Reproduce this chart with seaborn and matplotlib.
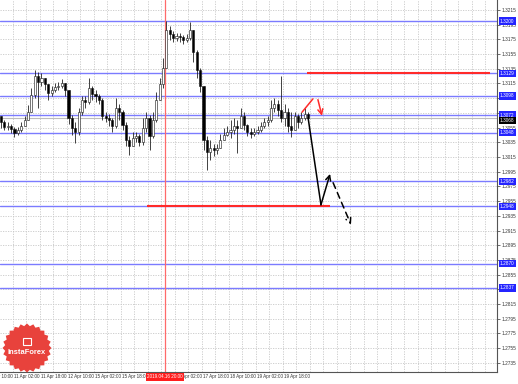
import numpy as np
import pandas as pd
import matplotlib
matplotlib.use("Agg")
import matplotlib.pyplot as plt
import seaborn as sns
from matplotlib.patches import Polygon
from matplotlib.transforms import blended_transform_factory

# ---------------- data (2-hour candles) ----------------
first_open = 1.3071
close = [1.3063, 1.3056, 1.3057, 1.3053, 1.3048, 1.3052, 1.3057, 1.3065, 1.3076, 1.3099,
         1.3125, 1.3117, 1.3122, 1.3114, 1.3102, 1.3106, 1.3110, 1.3112, 1.3116, 1.3106,
         1.3068, 1.3054, 1.3049, 1.3076, 1.3093, 1.3090, 1.3109, 1.3101, 1.3098, 1.3093,
         1.3071, 1.3068, 1.3065, 1.3057, 1.3082, 1.3076, 1.3059, 1.3038, 1.3030, 1.3041,
         1.3044, 1.3036, 1.3055, 1.3068, 1.3044, 1.3065, 1.3093, 1.3114, 1.3136, 1.3188,
         1.3182, 1.3177, 1.3180, 1.3178, 1.3174, 1.3177, 1.3188, 1.3158, 1.3133, 1.3112,
         1.3038, 1.3022, 1.3027, 1.3025, 1.3027, 1.3038, 1.3045, 1.3049, 1.3052, 1.3057,
         1.3055, 1.3071, 1.3059, 1.3049, 1.3046, 1.3049, 1.3052, 1.3057, 1.3063, 1.3065,
         1.3082, 1.3087, 1.3079, 1.3068, 1.3076, 1.3057, 1.3052, 1.3071, 1.3063, 1.3068,
         1.3073, 1.3068]
high = [1.3071, 1.3065, 1.3063, 1.3060, 1.3056, 1.3056, 1.3063, 1.3071, 1.3086, 1.3109,
        1.3133, 1.3131, 1.3129, 1.3122, 1.3114, 1.3112, 1.3116, 1.3117, 1.3121, 1.3114,
        1.3106, 1.3072, 1.3063, 1.3082, 1.3098, 1.3098, 1.3122, 1.3112, 1.3106, 1.3101,
        1.3095, 1.3076, 1.3074, 1.3068, 1.3095, 1.3087, 1.3079, 1.3063, 1.3044, 1.3049,
        1.3049, 1.3046, 1.3068, 1.3076, 1.3072, 1.3076, 1.3104, 1.3122, 1.3150, 1.3200,
        1.3193, 1.3186, 1.3184, 1.3184, 1.3181, 1.3182, 1.3199, 1.3185, 1.3161, 1.3136,
        1.3112, 1.3044, 1.3038, 1.3033, 1.3033, 1.3046, 1.3055, 1.3057, 1.3065, 1.3068,
        1.3065, 1.3082, 1.3076, 1.3060, 1.3055, 1.3055, 1.3057, 1.3063, 1.3068, 1.3071,
        1.3093, 1.3095, 1.3093, 1.3125, 1.3087, 1.3082, 1.3076, 1.3076, 1.3074, 1.3076,
        1.3082, 1.3076]
low = [1.3054, 1.3052, 1.3052, 1.3048, 1.3042, 1.3045, 1.3049, 1.3057, 1.3065, 1.3076,
       1.3095, 1.3082, 1.3112, 1.3106, 1.3093, 1.3098, 1.3103, 1.3106, 1.3109, 1.3098,
       1.3060, 1.3045, 1.3034, 1.3045, 1.3072, 1.3082, 1.3087, 1.3093, 1.3090, 1.3087,
       1.3065, 1.3063, 1.3057, 1.3049, 1.3055, 1.3065, 1.3052, 1.3030, 1.3018, 1.3030,
       1.3036, 1.3030, 1.3031, 1.3049, 1.3025, 1.3041, 1.3063, 1.3093, 1.3109, 1.3139,
       1.3174, 1.3171, 1.3173, 1.3171, 1.3169, 1.3171, 1.3174, 1.3144, 1.3122, 1.3104,
       1.3025, 1.2997, 1.3011, 1.3016, 1.3019, 1.3027, 1.3038, 1.3044, 1.3041, 1.3046,
       1.3020, 1.3057, 1.3052, 1.3044, 1.3041, 1.3044, 1.3046, 1.3049, 1.3055, 1.3057,
       1.3063, 1.3076, 1.3071, 1.3063, 1.3057, 1.3049, 1.3042, 1.3052, 1.3055, 1.3060,
       1.3065, 1.3065]

x_tick_labels = ["10 Apr 10:00", "11 Apr 02:00", "11 Apr 18:00", "12 Apr 10:00",
                 "15 Apr 02:00", "15 Apr 18:00", "16 Apr 10:00", "17 Apr 02:00",
                 "17 Apr 18:00", "18 Apr 10:00", "19 Apr 02:00", "19 Apr 18:00"]
y_tick_values = [round(1.3215 - 0.002 * k, 4) for k in range(25)]

blue_levels = [1.3200, 1.3129, 1.3098, 1.3072, 1.3048, 1.2982, 1.2948, 1.2870, 1.2837]
red_level_upper = 1.3129
red_level_upper_span = (90.7, 144.9)
red_level_lower = 1.2948
red_level_lower_span = (43.3, 97.5)
cursor_bar = 48.6
cursor_label = "2019.04.16 20:00"

black_path_x = [91.0, 94.8, 97.5]
black_path_y = [1.3068, 1.2950, 1.2992]
black_dash_x = [98.4, 103.7]
black_dash_y = [1.2980, 1.2923]
red_path_x = [89.2, 92.4]
red_path_y = [1.3076, 1.3094]
red_arrow_x = [93.9, 95.1]
red_arrow_y = [1.3093, 1.3071]

# ---------------- figure ----------------
sns.set_style("white")
plt.rcParams["font.family"] = ["Liberation Sans", "DejaVu Sans"]
W, H = 518, 384
fig = plt.figure(figsize=(W / 100, H / 100), dpi=100)
fig.patch.set_facecolor("white")
ax = fig.add_axes([0, 12 / H, 497 / W, 372 / H])

n = len(close)
df = pd.DataFrame({"i": np.arange(n), "close": close, "high": high, "low": low})
df["open"] = np.r_[first_open, df["close"].values[:-1]]
df["high"] = df[["high", "open", "close"]].max(axis=1)
df["low"] = df[["low", "open", "close"]].min(axis=1)
bull = df["close"] >= df["open"]

x_min, x_max = -0.296, 146.96
y_top, y_bot = 1.32286, 1.27225

# grid
for yv in y_tick_values:
    ax.axhline(yv, color="#c8c8c8", lw=0.6, ls=(0, (1.5, 1.5)), zorder=0)
for gx in np.arange(-0.5, x_max, 4):
    ax.axvline(gx, color="#c8c8c8", lw=0.6, ls=(0, (1.5, 1.5)), zorder=0)

# levels
for lv in blue_levels:
    ax.axhline(lv, color="#7b7bff", lw=1.0, zorder=1)
ax.axhline(close[-1], color="#bdbdbd", lw=0.8, zorder=1)
ax.axvline(cursor_bar, color="#ff6a6a", lw=0.9, zorder=1)
ax.hlines(red_level_upper, *red_level_upper_span, color="#ff2a2a", lw=1.5, zorder=2)
ax.hlines(red_level_lower, *red_level_lower_span, color="#ff2a2a", lw=1.5, zorder=2)

# candles
ax.vlines(df["i"], df["low"], df["high"], color="#222222", lw=0.6, zorder=3)
body = (df["close"] - df["open"]).abs().clip(lower=0.00004)
ax.bar(df["i"], body, bottom=np.minimum(df["open"], df["close"]), width=0.62,
       color=np.where(bull, "white", "black"), edgecolor="#111111", lw=0.4, zorder=4)

# forecast arrows
sns.lineplot(x=black_path_x[:-1], y=black_path_y[:-1], sort=False, estimator=None,
             color="black", lw=1.1, ax=ax, zorder=5)
ax.annotate("", xy=(black_path_x[-1], black_path_y[-1]),
            xytext=(black_path_x[-2], black_path_y[-2]),
            arrowprops=dict(arrowstyle="->", color="black", lw=1.1, mutation_scale=9,
                            shrinkA=0, shrinkB=0), zorder=5)
ax.annotate("", xy=(black_dash_x[1], black_dash_y[1]),
            xytext=(black_dash_x[0], black_dash_y[0]),
            arrowprops=dict(arrowstyle="->", color="black", lw=1.1, ls=(0, (4, 3)),
                            mutation_scale=9, shrinkA=0, shrinkB=0), zorder=5)
sns.lineplot(x=red_path_x, y=red_path_y, sort=False, estimator=None,
             color="#ff2a2a", lw=1.1, ax=ax, zorder=5)
ax.annotate("", xy=(red_arrow_x[1], red_arrow_y[1]),
            xytext=(red_arrow_x[0], red_arrow_y[0]),
            arrowprops=dict(arrowstyle="->", color="#ff2a2a", lw=1.1, mutation_scale=9,
                            shrinkA=0, shrinkB=0), zorder=5)

# spines / axes
for s in ["left", "top"]:
    ax.spines[s].set_visible(False)
for s in ["right", "bottom"]:
    ax.spines[s].set_color("#555555")
    ax.spines[s].set_linewidth(0.8)
ax.set_xlabel("")
ax.set_ylabel("")
ax.yaxis.tick_right()
ax.set_yticks(y_tick_values)
ax.set_yticklabels([f"{v:.4f}" for v in y_tick_values])
ax.tick_params(axis="y", labelsize=3.4, length=2, width=0.5, pad=1.2,
               colors="#333333", direction="out")
xt = [-4.5 + 8 * k for k in range(len(x_tick_labels))]
ax.set_xticks(xt)
ax.set_xticklabels([])
ax.tick_params(axis="x", length=2, width=0.5, colors="#555555")

# limits last (set_xticks would otherwise widen them)
ax.set_xlim(x_min, x_max)
ax.set_ylim(y_bot, y_top)

xtr = blended_transform_factory(ax.transData, ax.transAxes)
for pos, lab in zip(xt, x_tick_labels):
    if cursor_bar - 6 < pos < cursor_bar:   # fully hidden by the red cursor box
        continue
    ax.text(pos + 0.3, -0.006, lab, transform=xtr,
            ha="left", va="top", fontsize=3.3, color="#333333", clip_on=False)

# price labels on right axis
tr = blended_transform_factory(ax.transAxes, ax.transData)
for lv in blue_levels:
    ax.text(1.006, lv, f"{lv:.4f}", transform=tr, ha="left", va="center", fontsize=3.4,
            color="white", bbox=dict(boxstyle="square,pad=0.25", fc="#2424ff", ec="none"),
            clip_on=False, zorder=6)
ax.text(1.006, close[-1] - 0.0003, f"{close[-1]:.4f}", transform=tr, ha="left", va="center",
        fontsize=3.4, color="white", bbox=dict(boxstyle="square,pad=0.25", fc="black", ec="none"),
        clip_on=False, zorder=6)

# cursor time label on x axis
ax.text(cursor_bar, -0.006, cursor_label, transform=xtr,
        ha="center", va="top", fontsize=3.3, color="white",
        bbox=dict(boxstyle="square,pad=0.35", fc="#ff1e1e", ec="none"), clip_on=False, zorder=7)

# InstaForex badge (pixel coordinates, origin bottom-left)
cx, cy, r1, r2 = 27, H - 348, 24.5, 22.0
ang = np.linspace(0, 2 * np.pi, 49)[:-1]
rad = np.where(np.arange(48) % 2 == 0, r1, r2)
pts = np.c_[cx + rad * np.cos(ang), cy + rad * np.sin(ang)]
fig.patches.append(Polygon(pts, closed=True, fc="#e8423c", ec="none", transform=None, zorder=10))
fig.text(cx / W, (cy - 4) / H, "InstaForex", ha="center", va="center", fontsize=5.4,
         color="white", fontweight="bold", zorder=11)
fig.patches.append(Polygon([[cx - 4, cy + 3], [cx + 4, cy + 3], [cx + 4, cy + 10], [cx - 4, cy + 10]],
                           closed=True, fc="none", ec="white", lw=0.8, transform=None, zorder=11))

fig.savefig("out.png", dpi=100, facecolor="white")
